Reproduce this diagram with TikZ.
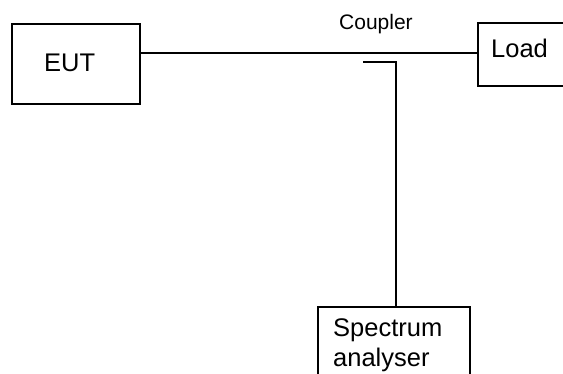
\documentclass[tikz,border=0pt]{standalone}
\usepackage{fontspec}
\setmainfont{Liberation Sans}
\begin{document}
\begin{tikzpicture}[x=1pt,y=-1pt,
  box/.style={draw=black,line width=2pt,rectangle,inner sep=0pt,anchor=north west},
  wire/.style={draw=black,line width=2pt},
  lbl/.style={inner sep=0pt,anchor=base west,font=\fontsize{25.5}{30}\selectfont},
  small/.style={inner sep=0pt,anchor=base west,font=\fontsize{21}{25}\selectfont}]
\useasboundingbox (0,0) rectangle (563,374);
\clip (0,0) rectangle (563,374);
\node[box,minimum width=128pt,minimum height=80pt] (eut) at (11,23) {};
\node[lbl] (eutt) at (44,72) {EUT};
\node[box,minimum width=120pt,minimum height=63pt] (load) at (477,22) {};
\node[lbl] (loadt) at (491,58) {Load};
\node[box,minimum width=152pt,minimum height=100pt] (spec) at (317,306) {};
\node[lbl] (spect1) at (333,337) {Spectrum};
\node[lbl] (spect2) at (333,367) {analyser};
\node[small] (coup) at (339,30) {Coupler};
\draw[wire] (eut.east |- 0,53) -- (load.west |- 0,53);
\coordinate (c1) at (363,62);
\coordinate (c2) at (396,62);
\draw[wire] (c1) -- (c2) -- (c2 |- spec.north);
\end{tikzpicture}
\end{document}
